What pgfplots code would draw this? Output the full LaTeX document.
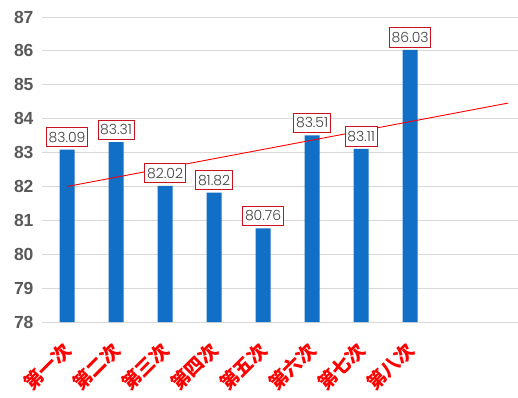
\documentclass[border=0pt]{standalone}
\usepackage{pgfplots}
\pgfplotsset{compat=1.18}
\usepackage{fontspec}
\setmainfont{Liberation Sans}
\newfontfamily\cjk{Noto Sans CJK SC}
\newfontfamily\lbl{Poppins Light}
\definecolor{barblue}{RGB}{17,111,198}
\definecolor{gridgray}{RGB}{217,217,217}
\definecolor{ticktxt}{RGB}{89,89,89}
\definecolor{lbltxt}{RGB}{64,64,64}
\definecolor{boxred}{RGB}{204,16,32}
\begin{document}
\begin{tikzpicture}
\begin{axis}[
  name=ax,
  at={(0,0)}, anchor=south west,
  scale only axis,
  width=476pt, height=305pt,
  xmin=0.49, xmax=10.2,
  ymin=78, ymax=87,
  ytick={78,79,...,87},
  xtick={1,...,8},
  xticklabels={第一次,第二次,第三次,第四次,第五次,第六次,第七次,第八次},
  major tick length=0pt,
  axis line style={draw=none},
  ymajorgrids,
  grid style={gridgray, line width=0.8pt},
  clip=false,
  /pgf/number format/assume math mode=true,
  yticklabel style={font=\fontsize{17.5}{17.5}\selectfont\bfseries, text=ticktxt, xshift=-5pt},
  xticklabel style={font=\cjk\fontsize{19}{19}\selectfont\bfseries, text=red, xshift=3pt, yshift=-22pt, rotate=45, anchor=east},
]
\addplot[ybar, bar width=15pt, fill=barblue, draw=none] coordinates {
  (1,83.09) (2,83.31) (3,82.02) (4,81.82) (5,80.76) (6,83.51) (7,83.11) (8,86.03)
};
\addplot[red, line width=0.9pt, mark=none] coordinates {(1,81.998) (10,84.461)};
\addplot[draw=none, mark=none, point meta=explicit symbolic,
  nodes near coords,
  every node near coord/.append style={font=\lbl\fontsize{14}{14}\selectfont, text=lbltxt, draw=boxred, line width=0.8pt, fill=white, inner xsep=2.2pt, inner ysep=4.3pt, anchor=south, yshift=2.5pt}]
coordinates {
  (1,83.09) [83.09] (2,83.31) [83.31] (3,82.02) [82.02] (4,81.82) [81.82]
  (5,80.76) [80.76] (6,83.51) [83.51] (7,83.11) [83.11] (8,86.03) [86.03]
};
\end{axis}
\pgfresetboundingbox
\path[use as bounding box] ([shift={(-42pt,-75pt)}]ax.south west) rectangle ([shift={(476pt,322pt)}]ax.south west);
\end{tikzpicture}
\end{document}
